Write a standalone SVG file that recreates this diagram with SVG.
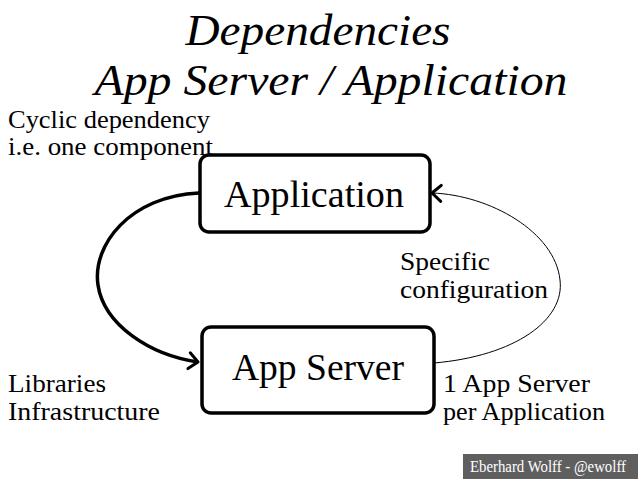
<svg xmlns="http://www.w3.org/2000/svg" width="638" height="479" viewBox="0 0 638 479">
<defs>
<style>
text{font-family:"Liberation Serif","Times New Roman",serif;fill:#000}
.title{font-size:44px;font-style:italic}
.lbl{font-size:26px}
.node{font-size:37px}
.box{fill:#fff;stroke:#000;stroke-width:3.5}
.conn{fill:none;stroke:#000}
</style>
<marker id="arr" markerUnits="userSpaceOnUse" markerWidth="24" markerHeight="24" refX="12" refY="12" orient="auto" viewBox="0 0 24 24">
<path d="M3,4 L12,12 L3,20" fill="none" stroke="#000" stroke-width="3" stroke-linecap="round" stroke-linejoin="round"/>
</marker>
</defs>
<rect width="638" height="479" fill="#fff"/>
<text class="title" x="318" y="45" text-anchor="middle" textLength="265" lengthAdjust="spacingAndGlyphs">Dependencies</text>
<text class="title" x="331" y="95" text-anchor="middle" textLength="473" lengthAdjust="spacingAndGlyphs">App Server / Application</text>
<text class="lbl" x="8" y="128" textLength="202" lengthAdjust="spacingAndGlyphs">Cyclic dependency</text>
<text class="lbl" x="8" y="155" textLength="205" lengthAdjust="spacingAndGlyphs">i.e. one component</text>
<g id="connectors">
<path class="conn" stroke-width="3.5" d="M199,193 C130,196 92,245 98,285 C104,325 150,355 198,362" marker-end="url(#arr)"/>
<path class="conn" stroke-width="1" d="M434,363 C515,356 565,320 560,280 C555,232 490,195 432,193" marker-end="url(#arr)"/>
</g>
<g id="application">
<rect class="box" x="200" y="155" width="230" height="77" rx="9"/>
<text class="node" x="314" y="207" text-anchor="middle" textLength="180" lengthAdjust="spacingAndGlyphs">Application</text>
</g>
<g id="appserver">
<rect class="box" x="202" y="327" width="232" height="86" rx="9"/>
<text class="node" x="318" y="380" text-anchor="middle" textLength="172" lengthAdjust="spacingAndGlyphs">App Server</text>
</g>
<text class="lbl" x="400" y="270" textLength="90" lengthAdjust="spacingAndGlyphs">Specific</text>
<text class="lbl" x="400" y="298" textLength="148" lengthAdjust="spacingAndGlyphs">configuration</text>
<text class="lbl" x="8" y="392" textLength="98" lengthAdjust="spacingAndGlyphs">Libraries</text>
<text class="lbl" x="8" y="420" textLength="152" lengthAdjust="spacingAndGlyphs">Infrastructure</text>
<text class="lbl" x="443" y="392" textLength="147" lengthAdjust="spacingAndGlyphs">1 App Server</text>
<text class="lbl" x="443" y="420" textLength="162" lengthAdjust="spacingAndGlyphs">per Application</text>
<rect x="463" y="454" width="175" height="25" fill="#5f5f5f"/>
<text x="470" y="472" style="font-size:16px;fill:#fff" textLength="156" lengthAdjust="spacingAndGlyphs">Eberhard Wolff - @ewolff</text>
</svg>
